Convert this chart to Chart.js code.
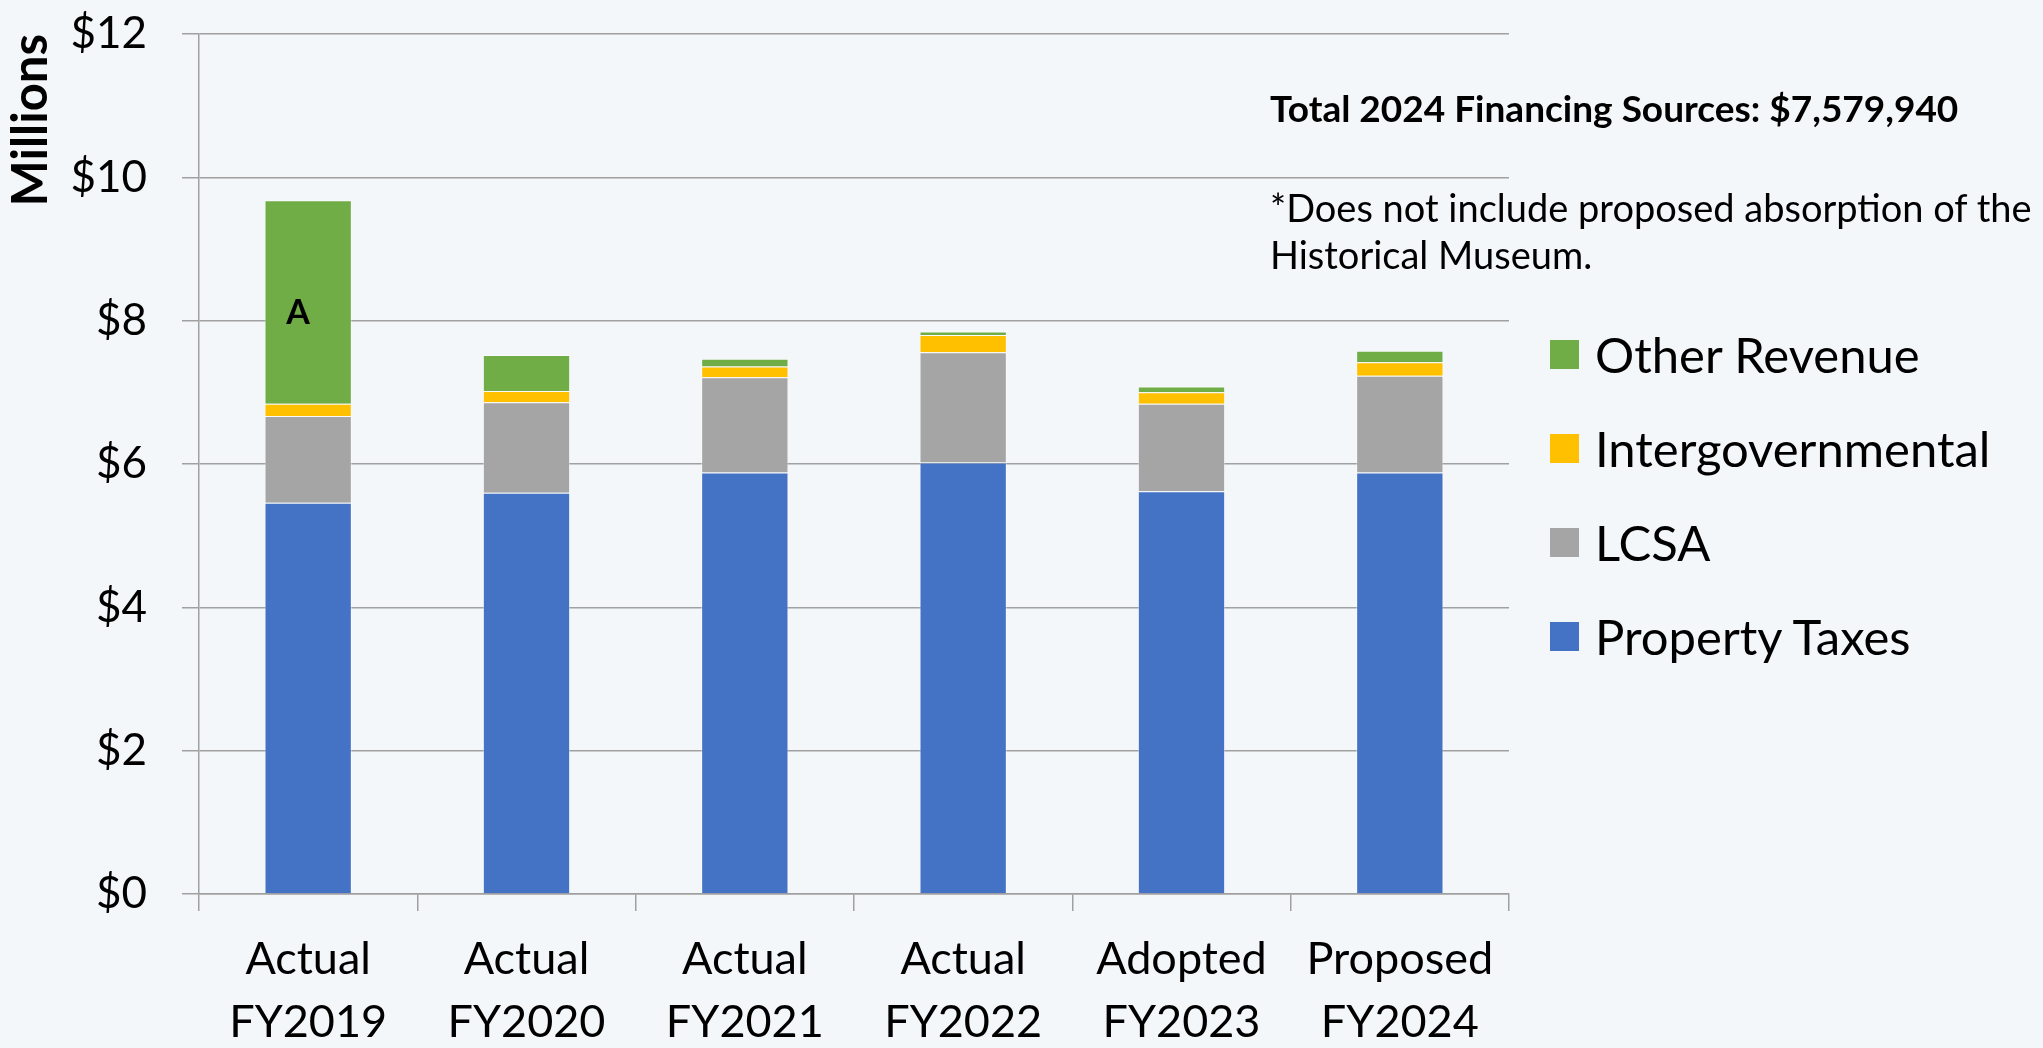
<!DOCTYPE html>
<html>
<head>
<meta charset="utf-8">
<script src="https://cdn.jsdelivr.net/npm/chart.js@4.4.0/dist/chart.umd.min.js"></script>
<style>
  body { margin: 0; background: #f4f7f9; font-family: Lato, sans-serif; color: #000; }
  #wrap { position: relative; width: 2043px; height: 1048px; overflow: hidden; }
  #box { position: absolute; left: 0; top: 0; }
  .note { position: absolute; left: 1270px; white-space: nowrap; }
  #total { top: 85px; font-size: 37px; font-weight: bold; }
  #foot { top: 184px; font-size: 38px; line-height: 47px; }
  #legend { position: absolute; left: 1550px; top: 324px; }
  .item { position: absolute; left: 0; height: 60px; display: flex; align-items: center; white-space: nowrap; font-size: 49px; }
  .item span.sw { width: 29px; height: 29px; margin-right: 16px; display: inline-block; }
</style>
</head>
<body>
<div id="wrap">
  <canvas id="box" width="2043" height="1048"></canvas>
  <div class="note" id="total">Total 2024 Financing Sources: $7,579,940</div>
  <div class="note" id="foot">*Does not include proposed absorption of the<br>Historical Museum.</div>
  <div id="legend"></div>
</div>
<script>
// fiscal years on the x axis
var years = [
  ["Actual", "FY2019"],
  ["Actual", "FY2020"],
  ["Actual", "FY2021"],
  ["Actual", "FY2022"],
  ["Adopted", "FY2023"],
  ["Proposed", "FY2024"]
];

// financing sources, in millions of dollars
var propertyTaxes = [5.46, 5.60, 5.88, 6.02, 5.62, 5.88];
var lcsa          = [1.21, 1.26, 1.33, 1.54, 1.22, 1.35];
var intergov      = [0.17, 0.16, 0.15, 0.24, 0.16, 0.19];
var otherRevenue  = [2.84, 0.50, 0.11, 0.05, 0.08, 0.16];

var seriesNames  = ["Property Taxes", "LCSA", "Intergovernmental", "Other Revenue"];
var seriesColors = ["#4472c4", "#a5a5a5", "#ffc000", "#70ad47"];

// footnote letter shown on the FY2019 other revenue block
var noteLetter = "A";

var gridColor = "#a0a0a0";

var datasets = [propertyTaxes, lcsa, intergov, otherRevenue].map(function (vals, i) {
  return {
    label: seriesNames[i],
    data: vals,
    backgroundColor: seriesColors[i],
    borderColor: "rgba(255,255,255,0.45)",
    borderWidth: 1,
    categoryPercentage: 1,
    barPercentage: 0.4
  };
});

var letterPlugin = {
  id: "letter",
  afterDatasetsDraw: function (chart) {
    var bar = chart.getDatasetMeta(3).data[0];
    var ctx = chart.ctx;
    ctx.save();
    ctx.font = "bold 34px Lato";
    ctx.fillStyle = "#000";
    ctx.textAlign = "center";
    ctx.textBaseline = "middle";
    ctx.fillText(noteLetter, bar.x - 10, (bar.y + bar.base) / 2 + 11);
    ctx.restore();
  }
};

var mychart = new Chart("box", {
  type: "bar",
  data: { labels: years, datasets: datasets },
  plugins: [letterPlugin],
  options: {
    responsive: false,
    animation: false,
    layout: { padding: { left: 0, right: 534, top: 34, bottom: 0 } },
    plugins: {
      legend: { display: false },
      tooltip: { enabled: false }
    },
    scales: {
      x: {
        stacked: true,
        afterFit: function (scale) { scale.height = 154; },
        grid: {
          offset: true,
          drawOnChartArea: false,
          drawTicks: true,
          tickLength: 17,
          color: gridColor,
          lineWidth: 1.5
        },
        border: { display: true, color: gridColor, width: 1.5 },
        ticks: {
          color: "#000",
          padding: 17,
          maxRotation: 0,
          font: { family: "Lato", size: 45, lineHeight: 1.4 }
        }
      },
      y: {
        stacked: true,
        min: 0,
        max: 12,
        afterFit: function (scale) {
          // fixed axis width; the big label padding shouldn't push the plot down
          scale.width = 199;
          scale.paddingTop = 0;
          scale.paddingBottom = 0;
        },
        grid: { color: gridColor, lineWidth: 1.5, tickLength: 17 },
        border: { display: true, color: gridColor, width: 1.5 },
        ticks: {
          stepSize: 2,
          color: "#000",
          padding: 35,
          font: { family: "Lato", size: 44 },
          callback: function (v) { return "$" + v; }
        },
        title: {
          display: true,
          text: "Millions",
          align: "end",
          color: "#000",
          padding: { top: 2, bottom: 0 },
          font: { family: "Lato", size: 49, weight: "bold", lineHeight: 1.2 }
        }
      }
    }
  }
});

// legend, top to bottom in reverse stacking order
var legend = document.getElementById("legend");
for (var i = datasets.length - 1; i >= 0; i--) {
  var row = document.createElement("div");
  row.className = "item";
  row.style.top = ((datasets.length - 1 - i) * 94) + "px";
  row.innerHTML = '<span class="sw" style="background:' + datasets[i].backgroundColor + '"></span>' + datasets[i].label;
  legend.appendChild(row);
}
</script>
</body>
</html>
